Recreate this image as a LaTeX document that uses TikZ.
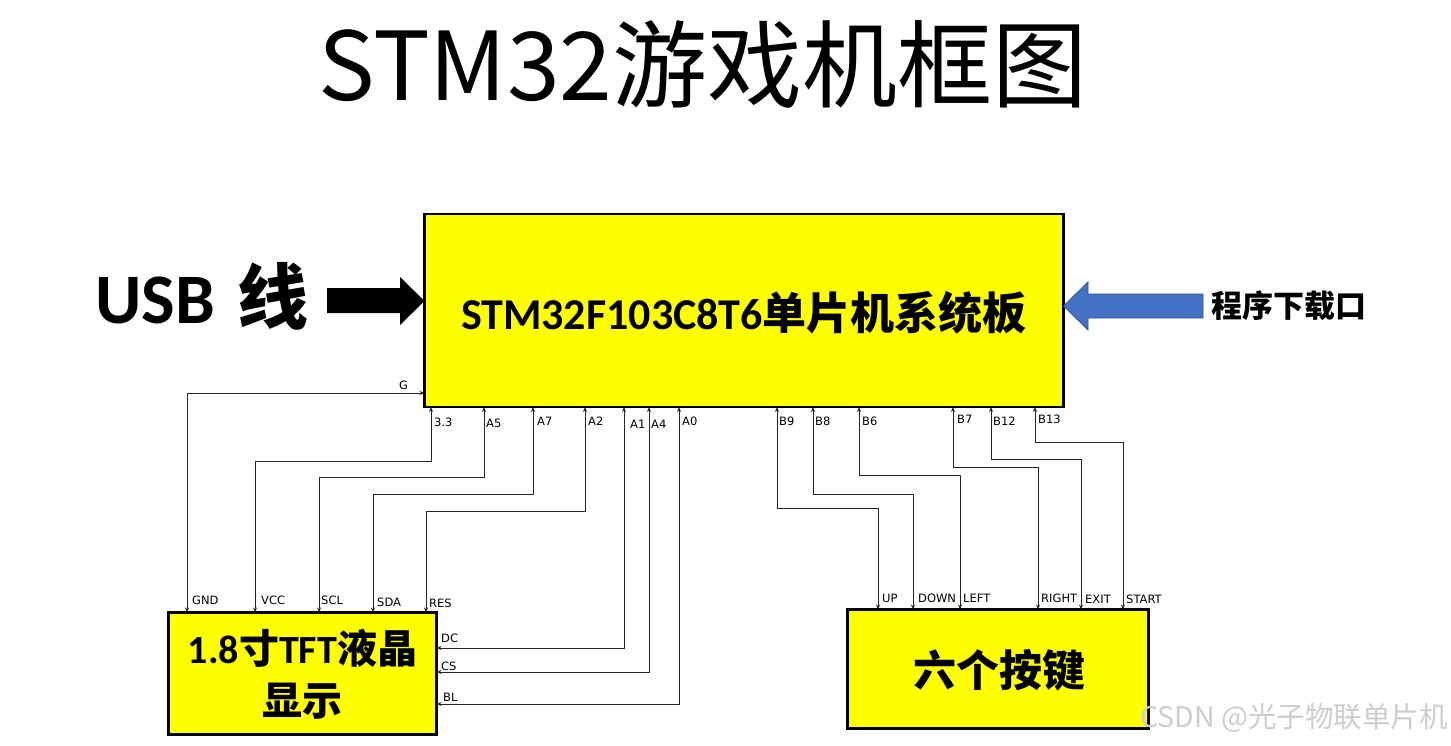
\documentclass[tikz,border=0pt]{standalone}
\usepackage{fontspec}
\setmainfont{DejaVu Sans}
\newfontfamily\cjk{Noto Sans CJK SC}
\newfontfamily\calfont{Carlito}
\usetikzlibrary{arrows.meta}
\definecolor{boxyellow}{RGB}{255,255,0}
\definecolor{arrowblue}{RGB}{68,114,196}
\definecolor{arrowblueline}{RGB}{47,82,143}
\definecolor{wm}{RGB}{205,205,205}
\begin{document}
\begin{tikzpicture}[x=1pt,y=-1pt,
  block/.style={draw=black,line width=2.6pt,fill=boxyellow,inner sep=0pt,outer sep=0pt},
  conn/.style={draw=black!85,line width=0.9pt,{Stealth[length=5pt,width=4pt]}-{Stealth[length=5pt,width=4pt]}},
  pin/.style={font=\fontsize{11.5}{12}\selectfont,anchor=base west,inner sep=0pt,text=black}]
\useasboundingbox[fill=white] (0,0) rectangle (1451,745);

% title
\node (title) at (703,65) {\cjk\fontsize{95}{100}\selectfont STM32游戏机框图};

% blocks
\node[block,minimum width=639pt,minimum height=193pt] (mcu) at (744,310.5) {};
\node[block,minimum width=268pt,minimum height=122pt] (tft) at (302.5,673.5) {};
\node[block,minimum width=301pt,minimum height=119pt] (keys) at (998,669) {};

\node (mcutext) at (744,313) {\fontsize{44}{48}\selectfont{\calfont\bfseries STM32F103C8T6}{\cjk\bfseries 单片机系统板}};
\node[align=center,inner sep=0pt,font=\fontsize{40}{52}\selectfont] (tfttext) at (302.5,674) {{\calfont\bfseries 1.8}{\cjk\bfseries 寸}{\calfont\bfseries TFT}{\cjk\bfseries 液晶}\\{\cjk\bfseries 显示}};
\node (keystext) at (999,670) {\cjk\bfseries\fontsize{43}{48}\selectfont 六个按键};

% USB
\node[anchor=base west,inner sep=0pt] (usb) at (95,323) {\fontsize{71}{75}\selectfont{\calfont\bfseries USB} {\cjk\bfseries 线}};
\coordinate (usbtip) at (mcu.west |- 0,301);
\fill[black] (327,288) -- (400,288) -- (400,277) -- (usbtip) -- (400,325) -- (400,313) -- (327,313) -- cycle;

% download port
\coordinate (dltip) at (mcu.east |- 0,306);
\filldraw[fill=arrowblue,draw=arrowblueline,line width=0.8pt] (dltip) -- (1088,282) -- (1088,294) -- (1203,294) -- (1203,318) -- (1088,318) -- (1088,330) -- cycle;
\node[anchor=west,inner sep=0pt] (dl) at (1211,306) {\cjk\bfseries\fontsize{31}{34}\selectfont 程序下载口};

% TFT connections
\draw[conn] (mcu.west |- 0,393) -| (187,0 |- tft.north);
\draw[conn] (431,0 |- mcu.south) |- (255,461) -- (255,0 |- tft.north);
\draw[conn] (484,0 |- mcu.south) |- (319,477) -- (319,0 |- tft.north);
\draw[conn] (533,0 |- mcu.south) |- (373,494) -- (373,0 |- tft.north);
\draw[conn] (585,0 |- mcu.south) |- (426,511) -- (426,0 |- tft.north);
\draw[conn] (624,0 |- mcu.south) |- (tft.east |- 0,648);
\draw[conn] (649,0 |- mcu.south) |- (tft.east |- 0,672);
\draw[conn] (679,0 |- mcu.south) |- (tft.east |- 0,704);

% key connections
\draw[conn] (777,0 |- mcu.south) |- (878,508) -- (878,0 |- keys.north);
\draw[conn] (813,0 |- mcu.south) |- (913,494) -- (913,0 |- keys.north);
\draw[conn] (859,0 |- mcu.south) |- (960,475) -- (960,0 |- keys.north);
\draw[conn] (953,0 |- mcu.south) |- (1038,467) -- (1038,0 |- keys.north);
\draw[conn] (991,0 |- mcu.south) |- (1081,459) -- (1081,0 |- keys.north);
\draw[conn] (1035,0 |- mcu.south) |- (1123,442) -- (1123,0 |- keys.north);

% pin labels
\node[pin] (lG) at (399,389) {G};
\node[pin] (l33) at (434,426) {3.3};
\node[pin] (lA5) at (486,427) {A5};
\node[pin] (lA7) at (537,425) {A7};
\node[pin] (lA2) at (588,425) {A2};
\node[pin] (lA1) at (630,428) {A1};
\node[pin] (lA4) at (651,428) {A4};
\node[pin] (lA0) at (682,425) {A0};
\node[pin] (lGND) at (192,604) {GND};
\node[pin] (lVCC) at (261,604) {VCC};
\node[pin] (lSCL) at (321,604) {SCL};
\node[pin] (lSDA) at (377,606) {SDA};
\node[pin] (lRES) at (429,607) {RES};
\node[pin] (lDC) at (441,642) {DC};
\node[pin] (lCS) at (441,670) {CS};
\node[pin] (lBL) at (443,701) {BL};
\node[pin] (lB9) at (779,425) {B9};
\node[pin] (lB8) at (815,425) {B8};
\node[pin] (lB6) at (862,425) {B6};
\node[pin] (lB7) at (957,423) {B7};
\node[pin] (lB12) at (993,425) {B12};
\node[pin] (lB13) at (1038,423) {B13};
\node[pin] (lUP) at (882,602) {UP};
\node[pin] (lDOWN) at (918,602) {DOWN};
\node[pin] (lLEFT) at (963,602) {LEFT};
\node[pin] (lRIGHT) at (1041,602) {RIGHT};
\node[pin] (lEXIT) at (1085,603) {EXIT};
\node[pin] (lSTART) at (1126,603) {START};

% watermark
\node[anchor=west,inner sep=0pt,text=wm] (wmark) at (1140,718) {\cjk\fontsize{28.5}{30}\selectfont CSDN @光子物联单片机};
\end{tikzpicture}
\end{document}
